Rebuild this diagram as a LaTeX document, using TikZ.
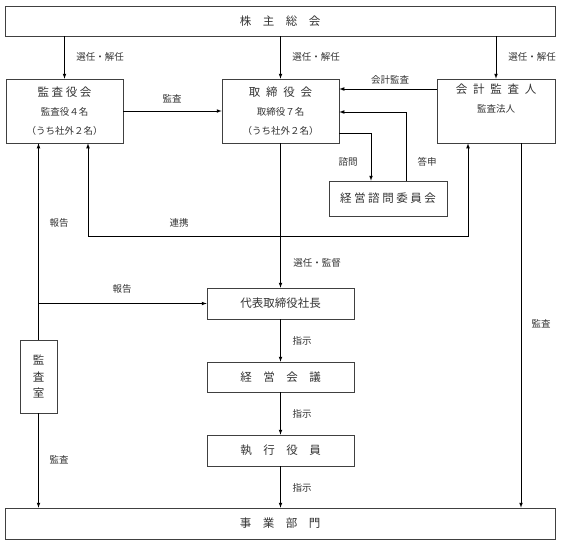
\documentclass[tikz,border=0pt]{standalone}
\usepackage{fontspec}
\setmainfont{Noto Sans CJK JP}
\usepackage{tikz}
\usetikzlibrary{arrows}
\usetikzlibrary{calc}
\usetikzlibrary{positioning}

\newcommand{\subtxt}{\fontsize{9.5}{19}\selectfont}

\tikzset{
  box/.style={draw=black!75, line width=0.7pt, text=black!80, inner sep=0pt,
    align=center, font=\fontsize{11.5}{19}\selectfont},
  lbl/.style={text=black!80, inner sep=0pt, font=\fontsize{9.5}{12}\selectfont},
  conn/.style={->, line width=0.7pt},
}

\begin{document}
\begin{tikzpicture}[x=1pt, y=-1pt, >=latex]

    \useasboundingbox (0, 0) rectangle (572, 544);

    % boxes
    \node [box, minimum width=550pt, minimum height=30pt] (soukai) at (280, 21)
    {株　主　総　会};
    \node [box, minimum width=117pt, minimum height=64pt] (kansayaku) at (64.5, 111)
    {監 査 役 会\\ {\subtxt 監査役４名}\\ {\subtxt （うち社外２名）}};
    \node [box, minimum width=117pt, minimum height=64pt] (torishimari) at (280.5, 111)
    {取\enskip 締\enskip 役\enskip 会\\ {\subtxt 取締役７名}\\ {\subtxt （うち社外２名）}};
    \node [box, minimum width=118pt, minimum height=64pt] (kaikei) at (496, 111)
    {会\enskip 計\enskip 監\enskip 査\enskip 人\\ {\subtxt 監査法人}\\ \strut};
    \node [box, minimum width=118pt, minimum height=35pt] (shimon) at (388, 198.5)
    {経 営 諮 問 委 員 会};
    \node [box, minimum width=147pt, minimum height=31pt] (shachou) at (280.5, 303.5)
    {代表取締役社長};
    \node [box, minimum width=37pt, minimum height=73pt,
      font=\fontsize{11.5}{16.5}\selectfont] (kansashitsu) at (38.5, 376.5)
    {監\\ 査\\ 室};
    \node [box, minimum width=147pt, minimum height=30pt] (kaigi) at (280.5, 377)
    {経　営　会　議};
    \node [box, minimum width=147pt, minimum height=31pt] (shikkou) at (280.5, 450.5)
    {執　行　役　員};
    \node [box, minimum width=550pt, minimum height=31pt] (jigyou) at (280, 523.5)
    {事　業　部　門};

    % connectors
    \draw [conn] (soukai.south -| kansayaku.north) -- (kansayaku.north);
    \draw [conn] (soukai.south -| torishimari.north) -- (torishimari.north);
    \draw [conn] (soukai.south -| kaikei.north) -- (kaikei.north);
    \draw [conn] (kansayaku.east) -- (torishimari.west);
    \draw [conn] (kaikei.west |- 0, 89) -- (torishimari.east |- 0, 89);
    \draw [conn] (shimon.north -| 406, 0) |- (torishimari.east |- 0, 112);
    \draw [conn] (torishimari.east |- 0, 133) -| (shimon.north -| 371, 0);
    \draw [<->, line width=0.7pt] (kansayaku.south -| 88, 0) -- (88, 236)
    -| (kaikei.south -| 468, 0);
    \draw [conn] (kansashitsu.north) -- (kansashitsu.north |- kansayaku.south);
    \draw [conn] (kansashitsu.north |- shachou.west) -- (shachou.west);
    \draw [conn] (kansashitsu.south) -- (kansashitsu.south |- jigyou.north);
    \draw [conn] (torishimari.south) -- (shachou.north);
    \draw [conn] (shachou.south) -- (kaigi.north);
    \draw [conn] (kaigi.south) -- (shikkou.north);
    \draw [conn] (shikkou.south) -- (shikkou.south |- jigyou.north);
    \draw [conn] (kaikei.south -| 521, 0) -- (jigyou.north -| 521, 0);

    % labels
    \node [lbl] (sennin1) at (100, 57) {選任・解任};
    \node [lbl] (sennin2) at (316, 57) {選任・解任};
    \node [lbl] (sennin3) at (532, 57) {選任・解任};
    \node [lbl] (kansa1) at (172, 99) {監査};
    \node [lbl] (kaikeikansa) at (390, 80) {会計監査};
    \node [lbl] (shimonlbl) at (348, 162) {諮問};
    \node [lbl] (toushin) at (427, 162) {答申};
    \node [lbl] (houkoku1) at (59, 223) {報告};
    \node [lbl] (renkei) at (179, 223) {連携};
    \node [lbl] (houkoku2) at (122, 289) {報告};
    \node [lbl] (kantoku) at (317, 263) {選任・監督};
    \node [lbl] (kansa2) at (541, 324) {監査};
    \node [lbl] (shiji1) at (302, 341) {指示};
    \node [lbl] (shiji2) at (302, 414) {指示};
    \node [lbl] (shiji3) at (302, 488) {指示};
    \node [lbl] (kansa3) at (59, 460) {監査};

\end{tikzpicture}
\end{document}
